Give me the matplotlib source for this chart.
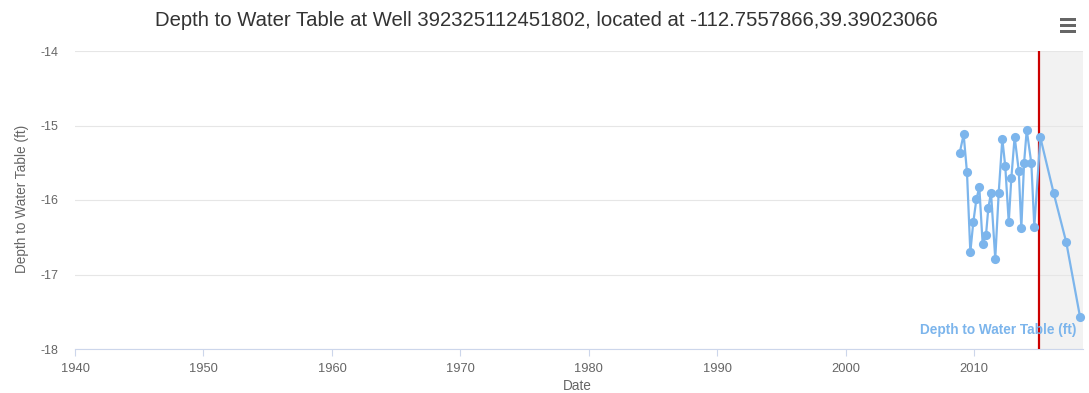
import matplotlib
matplotlib.use("Agg")
import matplotlib.pyplot as plt
from matplotlib.patches import Rectangle

plt.rcParams['font.family'] = ['Liberation Sans', 'DejaVu Sans']

# Measurement dates (decimal years) and depth to water table (ft)
years = [2008.86, 2009.17, 2009.43, 2009.69, 2009.92, 2010.16, 2010.39, 2010.65,
         2010.91, 2011.09, 2011.30, 2011.63, 2011.90, 2012.18, 2012.41, 2012.68,
         2012.88, 2013.14, 2013.46, 2013.66, 2013.87, 2014.08, 2014.44, 2014.67,
         2015.14, 2016.18, 2017.16, 2018.23]
depth = [-15.37, -15.12, -15.63, -16.70, -16.30, -15.99, -15.83, -16.59,
         -16.47, -16.11, -15.90, -16.79, -15.90, -15.18, -15.55, -16.30,
         -15.71, -15.15, -15.61, -16.38, -15.51, -15.06, -15.51, -16.36,
         -15.16, -15.91, -16.57, -17.57]

x_ticks = [1940, 1950, 1960, 1970, 1980, 1990, 2000, 2010]
y_ticks = [-18, -17, -16, -15, -14]
today = 2015.0
x_range = (1940, 2018.46)
y_range = (-18, -14)

title = "Depth to Water Table at Well 392325112451802, located at -112.7557866,39.39023066"
series_name = "Depth to Water Table (ft)"

W, H = 1089, 393
fig = plt.figure(figsize=(W / 100, H / 100), dpi=100)
ax = fig.add_axes([75 / W, 1 - 349 / H, (1083 - 75) / W, (349 - 51) / H])

ax.set_xlim(*x_range)
ax.set_ylim(*y_range)

# Shaded projection band and "today" marker
ax.axvspan(today, x_range[1], color='#f2f2f2', zorder=0, lw=0)
ax.axvline(today, color='#cc0000', lw=1.6, zorder=4)

# Horizontal grid
for yv in y_ticks:
    ax.axhline(yv, color='#e6e6e6', lw=0.8, zorder=1)

ax.plot(years, depth, color='#7cb5ec', lw=1.6, marker='o', ms=6.6,
        markeredgewidth=0, zorder=5, clip_on=False)

for s in ['top', 'right', 'left']:
    ax.spines[s].set_visible(False)
ax.spines['bottom'].set_color('#ccd6eb')
ax.spines['bottom'].set_linewidth(0.8)

ax.set_xticks(x_ticks)
ax.set_yticks(y_ticks)
ax.set_yticklabels([str(v) for v in y_ticks])
ax.set_xticklabels([str(v) for v in x_ticks])
ax.tick_params(axis='x', colors='#666666', labelsize=9.3, length=5, width=0.8,
               color='#ccd6eb', pad=5)
ax.tick_params(axis='y', colors='#666666', labelsize=9, length=0, pad=12)

fig.text(577 / W, 1 - 386 / H, "Date", ha='center', va='center',
         color='#666666', fontsize=9.8)
fig.text(22 / W, 1 - 199 / H, series_name, ha='center', va='center',
         rotation=90, color='#666666', fontsize=9.8)

ax.text(x_range[1] - 0.55, -17.75, series_name, color='#7cb5ec', fontsize=9.8,
        fontweight='bold', ha='right', va='center', zorder=6)

fig.text(546 / W, 1 - 20 / H, title, ha='center', va='center', fontsize=14.6,
         color='#333333')

# Menu icon
for yc in (19.5, 25.5, 31.5):
    fig.add_artist(Rectangle((1060 / W, 1 - (yc + 1.5) / H), 16 / W, 3 / H,
                             transform=fig.transFigure, color='#666666', lw=0))

fig.savefig("out.png", dpi=100, facecolor='white')
